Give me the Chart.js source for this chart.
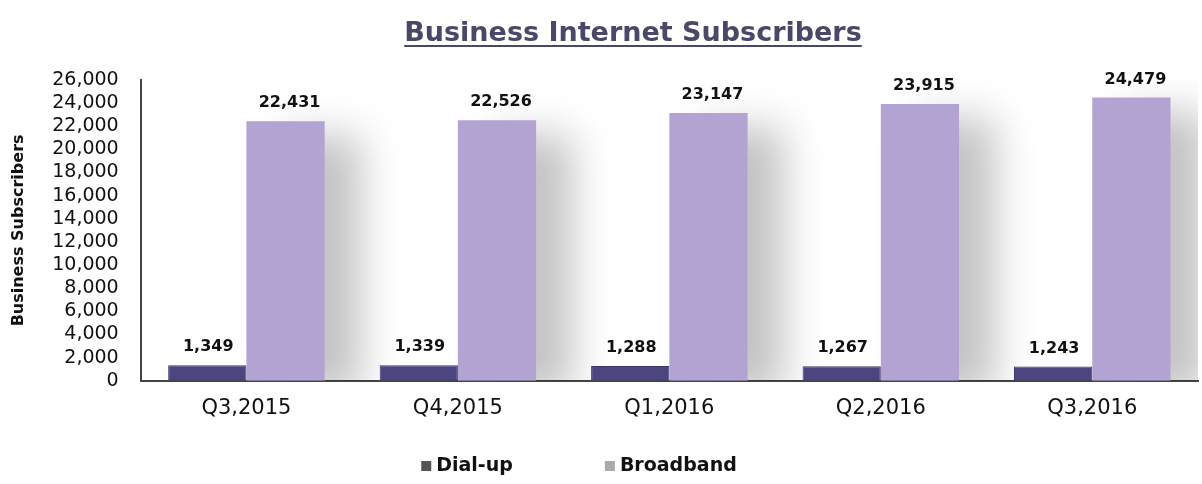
<!DOCTYPE html>
<html>
<head>
<meta charset="utf-8">
<title>Business Internet Subscribers</title>
<script src="https://cdn.jsdelivr.net/npm/chart.js@4.4.1/dist/chart.umd.min.js"></script>
<style>
  html, body { margin: 0; padding: 0; background: #fff; }
  #wrap { width: 1202px; height: 484px; position: relative; }
</style>
</head>
<body>
<div id="wrap"><canvas id="chart"></canvas></div>
<script>
const chartTitle = 'Business Internet Subscribers';
const quarters = ['Q3,2015', 'Q4,2015', 'Q1,2016', 'Q2,2016', 'Q3,2016'];
const dialUp = [1349, 1339, 1288, 1267, 1243];
const broadband = [22431, 22526, 23147, 23915, 24479];
const yTicks = [0, 2000, 4000, 6000, 8000, 10000, 12000, 14000, 16000, 18000, 20000, 22000, 24000, 26000];
const legendColors = ['#555555', '#aaaaaa'];

const FONT = "'DejaVu Sans', sans-serif";

// title drawn by hand so it can sit off-centre and get an underline
const titlePlugin = {
    id: 'underlinedTitle',
    afterDraw(chart) {
        const ctx = chart.ctx;
        ctx.save();
        ctx.font = 'bold 27px ' + FONT;
        ctx.fillStyle = '#4a4868';
        ctx.textAlign = 'center';
        ctx.textBaseline = 'alphabetic';
        const x = 633;
        const y = 41;
        ctx.fillText(chartTitle, x, y);
        const w = ctx.measureText(chartTitle).width;
        ctx.fillRect(x - w / 2, y + 4, w, 2);
        ctx.restore();
    }
};

// legend at the bottom, wide gap between the two entries
const bottomLegend = {
    id: 'bottomLegend',
    afterDraw(chart) {
        const ctx = chart.ctx;
        ctx.save();
        ctx.font = 'bold 19px ' + FONT;
        ctx.textBaseline = 'middle';
        ctx.textAlign = 'left';
        const names = chart.data.datasets.map(ds => ds.label);
        const gap = 92;
        const widths = names.map(n => 15 + ctx.measureText(n).width);
        const total = widths.reduce((a, b) => a + b, 0) + gap * (names.length - 1);
        let x = 579 - total / 2;
        const y = 466;
        names.forEach((n, i) => {
            ctx.fillStyle = legendColors[i];
            ctx.fillRect(x, y - 5, 10, 10);
            ctx.fillStyle = '#111';
            ctx.fillText(n, x + 15, y);
            x += widths[i] + gap;
        });
        ctx.restore();
    }
};

// soft shadow to the right of the broadband bars
const shadowPlugin = {
    id: 'barShadow',
    beforeDatasetDraw(chart, args) {
        if (args.index !== 1) return;
        const ctx = chart.ctx;
        ctx.save();
        ctx.shadowColor = 'rgba(0,0,0,0.24)';
        ctx.shadowBlur = 40;
        ctx.shadowOffsetX = 36;
        ctx.shadowOffsetY = 14;
    },
    afterDatasetDraw(chart, args) {
        if (args.index !== 1) return;
        chart.ctx.restore();
    }
};

// value labels above each bar
const valueLabels = {
    id: 'valueLabels',
    afterDatasetsDraw(chart) {
        const ctx = chart.ctx;
        ctx.save();
        ctx.font = 'bold 16px ' + FONT;
        ctx.fillStyle = '#111';
        ctx.textAlign = 'center';
        ctx.textBaseline = 'bottom';
        chart.data.datasets.forEach((ds, i) => {
            chart.getDatasetMeta(i).data.forEach((bar, j) => {
                ctx.fillText(ds.data[j].toLocaleString('en-US'), bar.x + (i ? 4 : 1), bar.y - 10);
            });
        });
        ctx.restore();
    }
};

new Chart(document.getElementById('chart'), {
    type: 'bar',
    data: {
        labels: quarters,
        datasets: [{
            label: 'Dial-up',
            data: dialUp,
            backgroundColor: '#4b4580',
            borderColor: '#3a3566',
            borderWidth: 1,
            barPercentage: 1,
            categoryPercentage: 0.74
        }, {
            label: 'Broadband',
            data: broadband,
            backgroundColor: '#b2a3d2',
            borderWidth: 0,
            barPercentage: 1,
            categoryPercentage: 0.74
        }]
    },
    options: {
        responsive: true,
        maintainAspectRatio: false,
        animation: false,
        layout: {
            padding: { top: 80, right: 4, left: 9, bottom: 48 }
        },
        plugins: {
            title: { display: false },
            tooltip: { enabled: false },
            legend: { display: false }
        },
        scales: {
            x: {
                grid: { display: false, drawTicks: false },
                border: { display: true, color: '#444', width: 2 },
                ticks: {
                    color: '#111',
                    padding: 15,
                    font: { family: FONT, size: 21 }
                }
            },
            y: {
                min: 0,
                max: 26000,
                afterBuildTicks(axis) {
                    axis.ticks = yTicks.map(v => ({ value: v }));
                },
                grid: { display: false, drawTicks: false },
                border: { display: true, color: '#444', width: 2 },
                ticks: {
                    autoSkip: false,
                    color: '#111',
                    padding: 22,
                    font: { family: FONT, size: 19 },
                    callback: v => v.toLocaleString('en-US')
                },
                title: {
                    display: true,
                    text: 'Business Subscribers',
                    color: '#111',
                    padding: { top: 0, bottom: 2 },
                    font: { family: FONT, size: 16, weight: 'bold' }
                }
            }
        }
    },
    plugins: [titlePlugin, bottomLegend, shadowPlugin, valueLabels]
});
</script>
</body>
</html>
